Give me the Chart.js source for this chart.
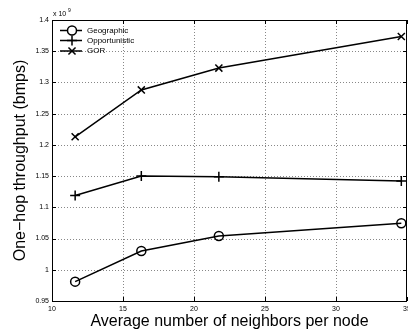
<!DOCTYPE html>
<html>
<head>
<meta charset="utf-8">
<script src="https://cdn.jsdelivr.net/npm/chart.js@4"></script>
<style>
    html, body { margin: 0; padding: 0; background: #fff; }
    #box { width: 408px; height: 331px; }
</style>
</head>
<body>
<div id="box"><canvas id="myChart" width="408" height="331"></canvas></div>
<script>
// average number of neighbors per node
var vicini = [11.63, 16.29, 21.75, 34.6];
// throughput in units of 10^9 bmps
var geographic = [0.981, 1.030, 1.054, 1.0745];
var opportunistic = [1.119, 1.150, 1.149, 1.142];
var gor = [1.213, 1.288, 1.323, 1.3735];
var nomi = ['Geographic', 'Opportunistic', 'GOR'];
var simboli = ['circle', 'cross', 'crossRot'];
var tick_x = [10, 15, 20, 25, 30, 35];
var tick_y = [0.95, 1, 1.05, 1.1, 1.15, 1.2, 1.25, 1.3, 1.35, 1.4];

var font_base = '"Liberation Sans", Arial, Helvetica, sans-serif';

function punti(ys) {
    var out = [];
    for (var i = 0; i < vicini.length; i++) {
        out.push({x: vicini[i], y: ys[i]});
    }
    return out;
}

function serie(nome, ys, simbolo) {
    return {
        label: nome,
        data: punti(ys),
        showLine: true,
        borderColor: '#000',
        backgroundColor: 'rgba(0,0,0,0)',
        borderWidth: 1.5,
        pointStyle: simbolo,
        pointRadius: simbolo == 'circle' ? 4.5 : 5,
        pointBorderWidth: 1.5,
        pointBorderColor: '#000',
        pointBackgroundColor: 'rgba(0,0,0,0)',
        tension: 0,
        clip: false
    };
}

// dotted grid under the lines
var griglia = {
    id: 'griglia',
    beforeDatasetsDraw: function (chart) {
        var ctx = chart.ctx;
        var a = chart.chartArea;
        var sx = chart.scales.x;
        var sy = chart.scales.y;
        ctx.save();
        ctx.strokeStyle = '#888';
        ctx.lineWidth = 1;
        ctx.setLineDash([1, 2]);
        ctx.beginPath();
        for (var i = 1; i < tick_x.length - 1; i++) {
            var px = Math.round(sx.getPixelForValue(tick_x[i])) + 0.5;
            ctx.moveTo(px, a.top); ctx.lineTo(px, a.bottom);
        }
        for (var j = 1; j < tick_y.length - 1; j++) {
            var py = Math.round(sy.getPixelForValue(tick_y[j])) + 0.5;
            ctx.moveTo(a.left, py); ctx.lineTo(a.right, py);
        }
        ctx.stroke();
        ctx.restore();
    }
};

// frame, inner ticks, exponent label and legend, MATLAB style
var cornice = {
    id: 'cornice',
    afterDraw: function (chart) {
        var ctx = chart.ctx;
        var a = chart.chartArea;
        var sx = chart.scales.x;
        var sy = chart.scales.y;
        ctx.save();
        ctx.strokeStyle = '#000';
        ctx.lineWidth = 1;
        ctx.strokeRect(Math.round(a.left) + 0.5, Math.round(a.top) + 0.5,
            Math.round(a.right - a.left) - 1, Math.round(a.bottom - a.top));
        ctx.beginPath();
        for (var i = 0; i < tick_x.length; i++) {
            var px = Math.round(sx.getPixelForValue(tick_x[i])) + 0.5;
            ctx.moveTo(px, a.bottom); ctx.lineTo(px, a.bottom - 4);
            ctx.moveTo(px, a.top); ctx.lineTo(px, a.top + 4);
        }
        for (var j = 0; j < tick_y.length; j++) {
            var py = Math.round(sy.getPixelForValue(tick_y[j])) + 0.5;
            ctx.moveTo(a.left, py); ctx.lineTo(a.left + 4, py);
            ctx.moveTo(a.right, py); ctx.lineTo(a.right - 4, py);
        }
        ctx.stroke();

        // x 10^9
        ctx.fillStyle = '#000';
        ctx.font = '7px ' + font_base;
        ctx.textBaseline = 'alphabetic';
        ctx.textAlign = 'left';
        ctx.fillText('x 10', a.left + 1, a.top - 4);
        ctx.font = '5px ' + font_base;
        ctx.fillText('9', a.left + 16, a.top - 8);

        // legend
        var righe = [30.5, 40.5, 51];
        ctx.lineWidth = 1.5;
        for (var k = 0; k < nomi.length; k++) {
            var y = righe[k];
            ctx.beginPath();
            ctx.moveTo(60, y); ctx.lineTo(82, y);
            ctx.stroke();
            ctx.fillStyle = '#fff';
            Chart.helpers.drawPoint(ctx, {
                pointStyle: simboli[k],
                radius: simboli[k] == 'circle' ? 4.5 : 5,
                rotation: 0,
                borderWidth: 1.5
            }, 72, y);
            ctx.fillStyle = '#000';
            ctx.font = '8px ' + font_base;
            ctx.textBaseline = 'middle';
            ctx.fillText(nomi[k], 87, y);
        }
        ctx.restore();
    }
};

var ctx = document.getElementById('myChart').getContext('2d');

var myChart = new Chart(ctx, {
    type: 'scatter',
    data: {
        datasets: [
            serie(nomi[0], geographic, simboli[0]),
            serie(nomi[1], opportunistic, simboli[1]),
            serie(nomi[2], gor, simboli[2])
        ]
    },
    options: {
        responsive: false,
        animation: false,
        layout: { autoPadding: false, padding: { top: 20, left: 0, right: 1, bottom: 0 } },
        plugins: {
            legend: { display: false },
            tooltip: { enabled: false }
        },
        scales: {
            x: {
                type: 'linear',
                min: 10,
                max: 35,
                afterBuildTicks: function (scale) {
                    scale.ticks = tick_x.map(function (v) { return {value: v}; });
                },
                afterFit: function (scale) {
                    scale.height = 30;
                    scale.paddingLeft = 0;
                    scale.paddingRight = 0;
                },
                grid: { display: false, drawTicks: false },
                border: { display: false },
                ticks: {
                    color: '#000',
                    padding: 4,
                    maxRotation: 0,
                    autoSkip: false,
                    font: { family: font_base, size: 7 }
                },
                title: {
                    display: true,
                    text: 'Average number of neighbors per node',
                    color: '#000',
                    padding: { top: 0, bottom: 0 },
                    font: { family: font_base, size: 16 }
                }
            },
            y: {
                type: 'linear',
                min: 0.95,
                max: 1.4,
                afterBuildTicks: function (scale) {
                    scale.ticks = tick_y.map(function (v) { return {value: v}; });
                },
                afterFit: function (scale) {
                    scale.width = 52;
                    scale.paddingTop = 0;
                    scale.paddingBottom = 0;
                },
                grid: { display: false, drawTicks: false },
                border: { display: false },
                ticks: {
                    color: '#000',
                    padding: 3,
                    autoSkip: false,
                    font: { family: font_base, size: 7 },
                    callback: function (v) { return String(Math.round(v * 100) / 100); }
                },
                title: {
                    display: true,
                    text: 'One\u2212hop throughput (bmps)',
                    color: '#000',
                    padding: { top: 11, bottom: 0 },
                    font: { family: font_base, size: 16 }
                }
            }
        }
    },
    plugins: [griglia, cornice]
});
</script>
</body>
</html>
